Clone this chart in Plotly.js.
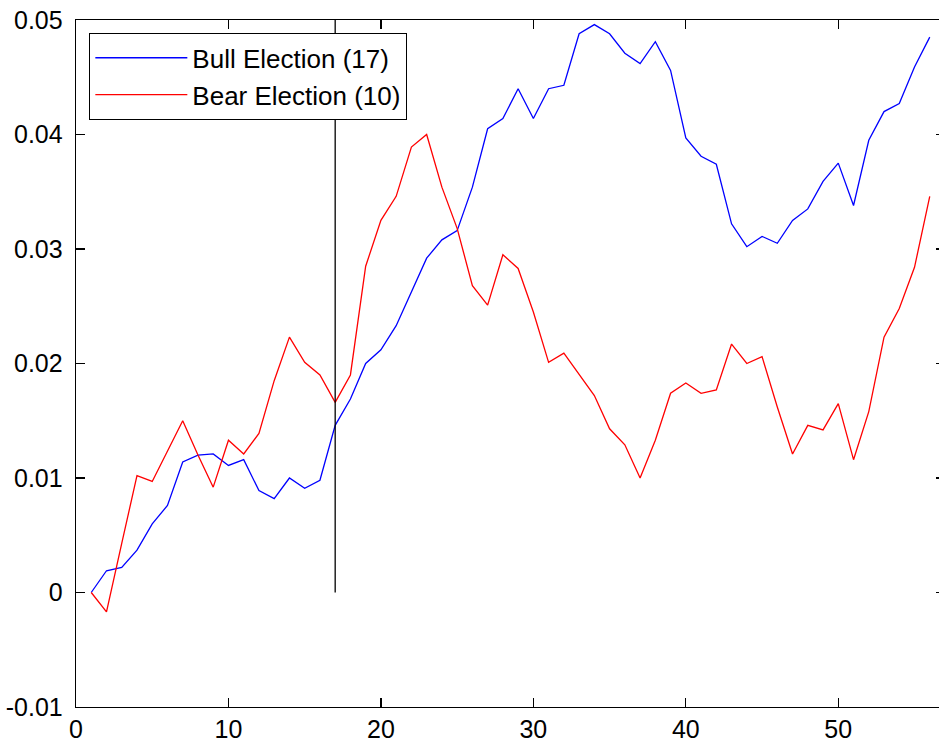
<!DOCTYPE html>
<html>
<head>
<meta charset="utf-8">
<script src="https://cdn.plot.ly/plotly-3.0.1.min.js"></script>
<style>
html, body { margin: 0; padding: 0; overflow: hidden; background: #fff; width: 939px; height: 742px; }
#chart { width: 950px; height: 742px; }
</style>
</head>
<body>
<div id="chart"></div>
<script>
// Data
const days = Array.from({length: 56}, (_, i) => i + 1);
const bullElection = [0, 0.0019, 0.0022, 0.0037, 0.0060, 0.0076, 0.0114, 0.0120, 0.0121, 0.0111,
  0.0116, 0.0089, 0.0082, 0.0100, 0.0091, 0.0098, 0.0146, 0.0169, 0.0200, 0.0212,
  0.0233, 0.0263, 0.0292, 0.0308, 0.0316, 0.0354, 0.0405, 0.0414, 0.0440, 0.0414,
  0.0440, 0.0443, 0.0488, 0.0496, 0.0488, 0.0471, 0.0462, 0.0481, 0.0456, 0.0397,
  0.0381, 0.0374, 0.0322, 0.0302, 0.0311, 0.0305, 0.0325, 0.0335, 0.0359, 0.0375,
  0.0338, 0.0395, 0.0420, 0.0427, 0.0459, 0.0485];
const bearElection = [0, -0.0017, 0.0043, 0.0102, 0.0097, 0.0123, 0.0150, 0.0120, 0.0092, 0.0133,
  0.0121, 0.0139, 0.0185, 0.0223, 0.0201, 0.0190, 0.0166, 0.0190, 0.0285, 0.0325,
  0.0346, 0.0389, 0.0400, 0.0354, 0.0318, 0.0268, 0.0251, 0.0295, 0.0283, 0.0245,
  0.0201, 0.0209, 0.0190, 0.0172, 0.0143, 0.0129, 0.0100, 0.0133, 0.0174, 0.0183,
  0.0174, 0.0177, 0.0217, 0.0200, 0.0206, 0.0162, 0.0121, 0.0146, 0.0142, 0.0165,
  0.0116, 0.0158, 0.0223, 0.0248, 0.0284, 0.0346];
const markerX = [17, 17];
const markerY = [0, 0.05];
const seriesNames = ['Bull Election (17)', 'Bear Election (10)'];
const xTickVals = [0, 10, 20, 30, 40, 50];
const xTickText = ['0', '10', '20', '30', '40', '50'];
const yTickVals = [-0.01, 0, 0.01, 0.02, 0.03, 0.04, 0.05];
const yTickText = ['-0.01', '0', '0.01', '0.02', '0.03', '0.04', '0.05'];

const FONT = 'Liberation Sans, Arial, sans-serif';

const traces = [
  { x: days, y: bullElection, name: seriesNames[0], type: 'scatter', mode: 'lines',
    line: { color: '#0000ff', width: 1.3 } },
  { x: days, y: bearElection, name: seriesNames[1], type: 'scatter', mode: 'lines',
    line: { color: '#ff0000', width: 1.3 } },
  { x: markerX, y: markerY, type: 'scatter', mode: 'lines', showlegend: false,
    line: { color: '#000000', width: 1.3 } }
];

const axisCommon = {
  showgrid: false, zeroline: false, showline: true, linecolor: '#000', linewidth: 1.3,
  mirror: 'allticks', ticks: 'inside', ticklen: 9, tickwidth: 1.3, tickcolor: '#000',
  tickfont: { family: FONT, size: 25, color: '#000' }, tickmode: 'array'
};

const layout = {
  width: 950, height: 742,
  margin: { l: 76, r: 5.3, t: 20, b: 35, pad: 0 },
  paper_bgcolor: '#fff', plot_bgcolor: '#fff',
  xaxis: Object.assign({}, axisCommon, { range: [0, 57], tickvals: xTickVals, ticktext: xTickText, ticklabelstandoff: 0 }),
  yaxis: Object.assign({}, axisCommon, { range: [-0.01, 0.05], tickvals: yTickVals, ticktext: yTickText, ticklabelstandoff: 7 }),
  showlegend: true,
  legend: {
    x: 0.015, y: 0.981, xanchor: 'left', yanchor: 'top',
    bgcolor: '#fff', bordercolor: '#000', borderwidth: 1.3,
    font: { family: FONT, size: 26, color: '#000' },
    itemwidth: 92, tracegroupgap: 0
  }
};

Plotly.newPlot('chart', traces, layout, { staticPlot: true, displayModeBar: false });
</script>
</body>
</html>
